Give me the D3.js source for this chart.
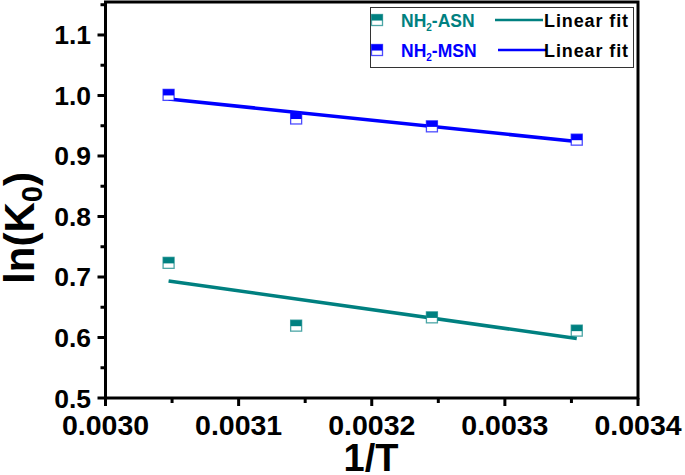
<!DOCTYPE html>
<html><head><meta charset="utf-8">
<script src="https://cdn.jsdelivr.net/npm/d3@7"></script>
<style>body{margin:0;background:#fff}svg{display:block}text{font-family:"Liberation Sans",Arial,sans-serif;font-weight:bold}</style>
</head><body><svg id="c" width="685" height="475"></svg>
<script>
const invT = [0.0030474, 0.0031432, 0.0032452, 0.0033540];
const asn = [0.7234, 0.6196, 0.6333, 0.6114];
const msn = [1.001, 0.962, 0.949, 0.927];
const xTicks = [0.0030, 0.0031, 0.0032, 0.0033, 0.0034];
const yTicks = [0.5, 0.6, 0.7, 0.8, 0.9, 1.0, 1.1];
const seriesNames = ["NH2-ASN", "NH2-MSN"];
const colors = ["#008080", "#0000ff"];

const svg = d3.select("#c");
const L = 105.5, R = 638, T = 2, B = 398;
const x = d3.scaleLinear().domain([0.0030, 0.0034]).range([L, R]);
const y = d3.scaleLinear().domain([0.5, 1.1545]).range([B, T]);

function fit(xs, ys) {
  const mx = d3.mean(xs), my = d3.mean(ys);
  let sxy = 0, sxx = 0;
  xs.forEach((v, i) => { sxy += (v - mx) * (ys[i] - my); sxx += (v - mx) * (v - mx); });
  const b = sxy / sxx, a = my - b * mx;
  return xs.map(v => a + b * v);
}

// frame
svg.append("rect").attr("x", L).attr("y", T).attr("width", R - L).attr("height", B - T)
  .attr("fill", "none").attr("stroke", "#000").attr("stroke-width", 3);

// x axis ticks
const xMinor = d3.range(0.00305, 0.0034, 0.0001);
const gx = svg.append("g");
gx.selectAll(".mj").data(xTicks).join("line").attr("x1", d => x(d)).attr("x2", d => x(d))
  .attr("y1", B).attr("y2", B + 8).attr("stroke", "#000").attr("stroke-width", 3);
gx.selectAll(".mn").data(xMinor).join("line").attr("x1", d => x(d)).attr("x2", d => x(d))
  .attr("y1", B).attr("y2", B + 5).attr("stroke", "#000").attr("stroke-width", 3);
gx.selectAll("text").data(xTicks).join("text").attr("x", d => x(d)).attr("y", 435)
  .attr("text-anchor", "middle").attr("font-size", 28.5).text(d => d.toFixed(4));

// y axis ticks
const yMinor = d3.range(0.55, 1.16, 0.1);
const gy = svg.append("g");
gy.selectAll(".mj").data(yTicks).join("line").attr("x1", L - 8).attr("x2", L)
  .attr("y1", d => y(d)).attr("y2", d => y(d)).attr("stroke", "#000").attr("stroke-width", 3);
gy.selectAll(".mn").data(yMinor).join("line").attr("x1", L - 5).attr("x2", L)
  .attr("y1", d => y(d)).attr("y2", d => y(d)).attr("stroke", "#000").attr("stroke-width", 3);
gy.selectAll("text").data(yTicks).join("text").attr("x", 91).attr("y", d => y(d) + 9.5)
  .attr("text-anchor", "end").attr("font-size", 26.5).text(d => d.toFixed(1));

// axis titles
svg.append("text").attr("x", 371).attr("y", 471).attr("text-anchor", "middle")
  .attr("font-size", 38).text("1/T");
const yt = svg.append("text").attr("transform", "translate(34,228) rotate(-90)")
  .attr("text-anchor", "middle").attr("font-size", 42);
yt.append("tspan").text("ln(K");
yt.append("tspan").attr("font-size", 29).attr("dy", 8).text("0");
yt.append("tspan").attr("dy", -8).text(")");

// fit lines & markers
[asn, msn].forEach((ys, k) => {
  const f = fit(invT, ys);
  const pts = invT.map((v, i) => [x(v), y(f[i])]);
  svg.append("path").attr("d", d3.line()([pts[0], pts[pts.length - 1]]))
    .attr("stroke", colors[k]).attr("stroke-width", 3.6).attr("fill", "none");
  const g = svg.append("g");
  invT.forEach((v, i) => {
    const cx = x(v), cy = y(ys[i]), s = 11;
    g.append("rect").attr("x", cx - s / 2).attr("y", cy - s / 2).attr("width", s).attr("height", s)
      .attr("fill", "#fff").attr("stroke", colors[k]).attr("stroke-opacity", 0.7).attr("stroke-width", 1.3);
    g.append("rect").attr("x", cx - s / 2).attr("y", cy - s / 2).attr("width", s).attr("height", s * 0.55)
      .attr("fill", colors[k]);
  });
});

// legend
svg.append("rect").attr("x", 370.5).attr("y", 7.5).attr("width", 263).attr("height", 60)
  .attr("fill", "#fff").attr("stroke", "#333").attr("stroke-width", 1);
const labParts = [["NH", "2", "-ASN"], ["NH", "2", "-MSN"]];
[0, 1].forEach(k => {
  const cy = 20 + k * 30;
  const s = 11, mx = 377;
  svg.append("rect").attr("x", mx - s / 2).attr("y", cy - s / 2).attr("width", s).attr("height", s)
    .attr("fill", "#fff").attr("stroke", colors[k]).attr("stroke-opacity", 0.7).attr("stroke-width", 1.3);
  svg.append("rect").attr("x", mx - s / 2).attr("y", cy - s / 2).attr("width", s).attr("height", s * 0.55)
    .attr("fill", colors[k]);
  const t = svg.append("text").attr("x", 401).attr("y", cy + 6.5).attr("font-size", 17.5).attr("fill", colors[k]);
  t.append("tspan").text(labParts[k][0]);
  t.append("tspan").attr("font-size", 10).attr("dy", 4).text(labParts[k][1]);
  t.append("tspan").attr("dy", -4).text(labParts[k][2]);
  svg.append("line").attr("x1", 495 + k * 3).attr("x2", 543 + k * 4).attr("y1", cy).attr("y2", cy)
    .attr("stroke", colors[k]).attr("stroke-width", 2.5);
  svg.append("text").attr("x", 629).attr("y", cy + 6.5).attr("text-anchor", "end")
    .attr("font-size", 18).attr("letter-spacing", 0.9).attr("fill", "#000").text("Linear fit");
});
</script></body></html>
